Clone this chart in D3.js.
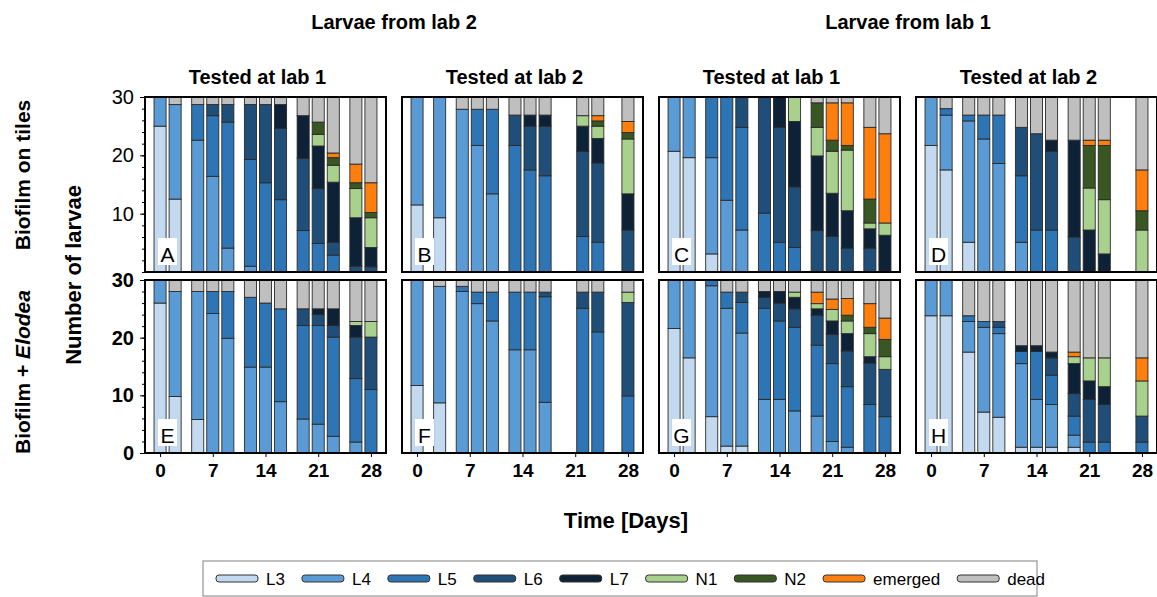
<!DOCTYPE HTML>
<html lang="en">
<head>
<meta charset="utf-8" />
<title>Larval development on biofilm</title>
<script src="https://d3js.org/d3.v7.min.js"></script>
<style>
  body { margin: 0; background: #fff; }
  text { font-family: "Liberation Sans", Arial, sans-serif; fill: #000; }
</style>
</head>
<body>
<div id="chart"></div>
<script>
// stages, bottom to top of each bar
var stages = ["L3", "L4", "L5", "L6", "L7", "N1", "N2", "emerged", "dead"];
var stageColours = ["#c3d9ef", "#5b9bd5", "#2e75b6", "#1f4e79", "#0d2137", "#a9d18e", "#385723", "#ff7f0e", "#bfbfbf"];

var daysAC = [0, 2, 5, 7, 9, 12, 14, 16, 19, 21, 23, 26, 28];
var daysB = [0, 3, 6, 8, 10, 13, 15, 17, 22, 24, 28];
var daysD = [0, 2, 5, 7, 9, 12, 14, 16, 19, 21, 23, 28];
var dayTicks = [0, 7, 14, 21, 28];
var countTicks = [0, 10, 20, 30];
var panelLetters = ["A", "B", "C", "D", "E", "F", "G", "H"];
var groupTitles = ["Larvae from lab 2", "Larvae from lab 1"];
var panelTitles = ["Tested at lab 1", "Tested at lab 2", "Tested at lab 1", "Tested at lab 2"];
var rowTitles = ["Biofilm on tiles", "Biofilm + "];

// number of larvae per stage: L3, L4, L5, L6, L7, N1, N2, emerged, dead
var panelA = [
  [25, 5, 0, 0, 0, 0, 0, 0, 0],
  [12.5, 16.2, 0, 0, 0, 0, 0, 0, 1.3],
  [0, 22.6, 6.1, 0, 0, 0, 0, 0, 1.3],
  [0, 16.4, 10.4, 1.9, 0, 0, 0, 0, 1.3],
  [0, 4.1, 21.6, 3.0, 0, 0, 0, 0, 1.3],
  [0, 1.0, 18.3, 9.4, 0, 0, 0, 0, 1.3],
  [0, 0, 15.3, 13.4, 0, 0, 0, 0, 1.3],
  [0, 0, 12.4, 12.2, 4.1, 0, 0, 0, 1.3],
  [0, 0, 7.1, 12.4, 7.3, 0, 0, 0, 3.2],
  [0, 0, 4.9, 9.4, 7.3, 2.0, 2.1, 0, 4.3],
  [0, 0, 2.9, 2.2, 10.3, 2.9, 1.3, 0.8, 9.6],
  [0, 0, 0, 1.0, 8.3, 5.0, 1.0, 3.2, 11.5],
  [0, 0, 0, 0.9, 3.3, 5.1, 0.9, 5.1, 14.7]
];
var panelB = [
  [11.5, 18.5, 0, 0, 0, 0, 0, 0, 0],
  [9.3, 20.7, 0, 0, 0, 0, 0, 0, 0],
  [0, 27.9, 0, 0, 0, 0, 0, 0, 2.1],
  [0, 21.7, 6.2, 0, 0, 0, 0, 0, 2.1],
  [0, 13.4, 14.5, 0, 0, 0, 0, 0, 2.1],
  [0, 0, 21.7, 5.2, 0, 0, 0, 0, 3.1],
  [0, 0, 17.5, 7.5, 1.9, 0, 0, 0, 3.1],
  [0, 0, 16.5, 8.5, 1.9, 0, 0, 0, 3.1],
  [0, 0, 6.1, 14.6, 4.3, 1.8, 0, 0, 3.2],
  [0, 0, 5.1, 13.6, 4.2, 2.1, 0.9, 0.9, 3.2],
  [0, 0, 0, 7.2, 6.2, 9.4, 1.1, 1.9, 4.2]
];
var panelC = [
  [20.7, 9.3, 0, 0, 0, 0, 0, 0, 0],
  [19.6, 10.4, 0, 0, 0, 0, 0, 0, 0],
  [3.1, 16.5, 10.4, 0, 0, 0, 0, 0, 0],
  [0, 12.3, 17.7, 0, 0, 0, 0, 0, 0],
  [0, 7.2, 17.6, 5.2, 0, 0, 0, 0, 0],
  [0, 0, 10.1, 19.9, 0, 0, 0, 0, 0],
  [0, 0, 5.1, 19.7, 5.2, 0, 0, 0, 0],
  [0, 0, 4.2, 10.4, 11.2, 4.2, 0, 0, 0],
  [0, 0, 0, 7.1, 12.8, 4.9, 4.2, 0, 1.0],
  [0, 0, 0, 6.1, 7.4, 7.2, 1.9, 6.4, 1.0],
  [0, 0, 0, 4.1, 6.4, 10.4, 0.8, 7.3, 1.0],
  [0, 0, 0, 4.1, 3.3, 1.0, 4.1, 12.3, 5.2],
  [0, 0, 0, 0, 6.3, 2.1, 0, 15.3, 6.3]
];
var panelD = [
  [21.7, 8.3, 0, 0, 0, 0, 0, 0, 0],
  [17.5, 9.4, 1.1, 0, 0, 0, 0, 0, 2.0],
  [5.1, 20.8, 1.0, 0, 0, 0, 0, 0, 3.1],
  [0, 22.8, 4.1, 0, 0, 0, 0, 0, 3.1],
  [0, 18.6, 8.3, 0, 0, 0, 0, 0, 3.1],
  [0, 5.1, 11.4, 8.3, 0, 0, 0, 0, 5.2],
  [0, 0, 7.2, 16.5, 0, 0, 0, 0, 6.3],
  [0, 0, 7.2, 13.5, 1.9, 0, 0, 0, 7.4],
  [0, 0, 0, 6.0, 16.6, 0, 0, 0, 7.4],
  [0, 0, 0, 0, 7.2, 7.2, 7.3, 0.9, 7.4],
  [0, 0, 0, 0, 3.1, 9.3, 9.3, 0.9, 7.4],
  [0, 0, 0, 0, 0, 7.2, 3.3, 7.0, 12.5]
];
var panelE = [
  [26, 4, 0, 0, 0, 0, 0, 0, 0],
  [9.8, 18.2, 0, 0, 0, 0, 0, 0, 2],
  [5.8, 22.2, 0, 0, 0, 0, 0, 0, 2],
  [0, 24.2, 3.8, 0, 0, 0, 0, 0, 2],
  [0, 19.9, 8.1, 0, 0, 0, 0, 0, 2],
  [0, 14.9, 12.1, 0, 0, 0, 0, 0, 3],
  [0, 14.9, 11.1, 0, 0, 0, 0, 0, 4],
  [0, 8.9, 16.1, 0, 0, 0, 0, 0, 5],
  [0, 5.9, 16.2, 2.9, 0, 0, 0, 0, 5],
  [0, 5.0, 17.1, 1.9, 1.0, 0, 0, 0, 5],
  [0, 2.9, 17.2, 2.0, 2.9, 0, 0, 0, 5],
  [0, 1.9, 11.0, 7.2, 2.0, 0.7, 0, 0, 7.2],
  [0, 0, 11.0, 9.1, 0, 2.7, 0, 0, 7.2]
];
var panelF = [
  [11.7, 18.3, 0, 0, 0, 0, 0, 0, 0],
  [8.7, 20.2, 0, 0, 0, 0, 0, 0, 1.1],
  [0, 28.0, 0.9, 0, 0, 0, 0, 0, 1.1],
  [0, 25.9, 2.0, 0, 0, 0, 0, 0, 2.1],
  [0, 22.9, 5.0, 0, 0, 0, 0, 0, 2.1],
  [0, 17.9, 10.0, 0, 0, 0, 0, 0, 2.1],
  [0, 17.9, 10.0, 0, 0, 0, 0, 0, 2.1],
  [0, 8.8, 18.3, 0.8, 0, 0, 0, 0, 2.1],
  [0, 0, 25.1, 2.8, 0, 0, 0, 0, 2.1],
  [0, 0, 21.0, 6.9, 0, 0, 0, 0, 2.1],
  [0, 0, 9.9, 16.2, 0, 1.8, 0, 0, 2.1]
];
var panelG = [
  [21.6, 8.4, 0, 0, 0, 0, 0, 0, 0],
  [16.5, 13.5, 0, 0, 0, 0, 0, 0, 0],
  [6.3, 22.7, 1.0, 0, 0, 0, 0, 0, 0],
  [1.2, 23.9, 2.8, 0, 0, 0, 0, 0, 2.1],
  [1.2, 19.6, 5.3, 1.8, 0, 0, 0, 0, 2.1],
  [0, 9.3, 15.8, 1.9, 1.0, 0, 0, 0, 2.0],
  [0, 9.3, 13.6, 3.1, 2.0, 0, 0, 0, 2.0],
  [0, 7.3, 14.5, 3.2, 2.0, 0.9, 0, 0, 2.1],
  [0, 6.4, 12.3, 5.2, 1.1, 0.9, 0, 2.0, 2.1],
  [0, 2.0, 13.5, 5.1, 2.3, 2.0, 0, 1.8, 3.3],
  [0, 1.0, 10.5, 6.2, 3.0, 2.2, 1.0, 2.9, 3.2],
  [0, 0, 8.4, 7.2, 1.1, 4.0, 1.1, 4.1, 4.1],
  [0, 0, 6.3, 8.2, 0, 2.2, 3.0, 3.7, 6.6]
];
var panelH = [
  [23.8, 6.2, 0, 0, 0, 0, 0, 0, 0],
  [23.8, 6.2, 0, 0, 0, 0, 0, 0, 0],
  [17.5, 5.3, 1.0, 0, 0, 0, 0, 0, 6.2],
  [7.1, 14.7, 1.0, 0, 0, 0, 0, 0, 7.2],
  [6.2, 14.5, 1.1, 1.0, 0, 0, 0, 0, 7.2],
  [1.0, 14.5, 2.1, 0, 1.0, 0, 0, 0, 11.4],
  [1.0, 8.3, 8.3, 0, 1.0, 0, 0, 0, 11.4],
  [1.0, 7.4, 5.1, 3.0, 1.0, 0, 0, 0, 12.5],
  [1.0, 2.1, 3.3, 3.9, 5.2, 1.2, 0, 0.8, 12.5],
  [0, 0, 1.9, 7.4, 3.2, 4.0, 0, 0, 13.5],
  [0, 0, 1.9, 6.5, 3.1, 5.0, 0, 0, 13.5],
  [0, 0, 1.9, 4.5, 0, 6.1, 0, 4.0, 13.5]
];

var width = 1157;
var height = 597;
var panelLefts = [145, 402, 659, 916];
var panelW = 241;
var rowTops = [97, 280];
var rowBottoms = [272, 453];

var svg = d3.select("#chart")
  .append("svg")
  .attr("width", width)
  .attr("height", height);

var panels = [
  { rows: panelA, days: daysAC, col: 0, row: 0 },
  { rows: panelB, days: daysB, col: 1, row: 0 },
  { rows: panelC, days: daysAC, col: 2, row: 0 },
  { rows: panelD, days: daysD, col: 3, row: 0 },
  { rows: panelE, days: daysAC, col: 0, row: 1 },
  { rows: panelF, days: daysB, col: 1, row: 1 },
  { rows: panelG, days: daysAC, col: 2, row: 1 },
  { rows: panelH, days: daysD, col: 3, row: 1 }
];

panels.forEach(function(p, i) {
  drawPanel(p, panelLetters[i]);
});

function drawPanel(p, letter) {
  var left = panelLefts[p.col];
  var xScale = d3.scaleLinear()
    .domain([-2, 30])
    .range([left, left + panelW]);
  var yScale = d3.scaleLinear()
    .domain([0, 30])
    .range([rowBottoms[p.row], rowTops[p.row]]);

  // one record per bar, keyed by stage, for d3.stack
  var table = p.rows.map(function(r, i) {
    var o = { day: p.days[i] };
    stages.forEach(function(s, j) { o[s] = r[j]; });
    return o;
  });
  var series = d3.stack().keys(stages)(table);

  var g = svg.append("g");
  var barW = xScale(0.8) - xScale(-0.8);

  series.forEach(function(s, j) {
    g.selectAll(null)
      .data(s.filter(function(d) { return d[1] - d[0] > 0; }))
      .enter()
      .append("rect")
      .attr("x", function(d) { return xScale(d.data.day) - barW / 2; })
      .attr("width", barW)
      .attr("y", function(d) { return yScale(d[1]); })
      .attr("height", function(d) { return yScale(d[0]) - yScale(d[1]); })
      .attr("fill", stageColours[j])
      .attr("stroke", "#2a2a2a")
      .attr("stroke-width", 0.9);
  });

  // panel letter on white box
  g.append("rect")
    .attr("x", left + 13)
    .attr("y", rowBottoms[p.row] - 34)
    .attr("width", 19)
    .attr("height", 27)
    .attr("fill", "#fff");
  g.append("text")
    .attr("x", left + 22.5)
    .attr("y", rowBottoms[p.row] - 10)
    .attr("text-anchor", "middle")
    .style("font-size", "21px")
    .text(letter);

  // frame
  g.append("rect")
    .attr("x", left)
    .attr("y", rowTops[p.row])
    .attr("width", panelW)
    .attr("height", rowBottoms[p.row] - rowTops[p.row])
    .attr("fill", "none")
    .attr("stroke", "#000")
    .attr("stroke-width", 2);

  if (p.row == 1) {
    var xAxis = d3.axisBottom(xScale)
      .tickValues(dayTicks)
      .tickSize(4)
      .tickSizeOuter(0)
      .tickPadding(7);
    var ax = g.append("g")
      .attr("transform", "translate(0," + rowBottoms[p.row] + ")")
      .call(xAxis);
    ax.select(".domain").remove();
    ax.selectAll("text")
      .style("font-size", "19px")
      .style("font-weight", "bold");
  }

  if (p.col == 0) {
    var minor = d3.axisLeft(yScale)
      .tickValues(d3.range(0, 31, 2))
      .tickSize(3)
      .tickFormat("");
    var mg = g.append("g")
      .attr("transform", "translate(" + left + ",0)")
      .call(minor);
    mg.select(".domain").remove();

    var yAxis = d3.axisLeft(yScale)
      .tickValues(p.row == 0 ? countTicks.slice(1) : countTicks)
      .tickSize(5)
      .tickPadding(6);
    var yg = g.append("g")
      .attr("transform", "translate(" + left + ",0)")
      .call(yAxis);
    yg.select(".domain").remove();
    yg.selectAll("text")
      .style("font-size", "20px")
      .style("font-weight", p.row == 1 ? "bold" : "normal");
  }
}

// column titles
var pairCentres = [(panelLefts[0] + panelLefts[1] + panelW) / 2, (panelLefts[2] + panelLefts[3] + panelW) / 2];
groupTitles.forEach(function(t, i) {
  svg.append("text")
    .attr("x", pairCentres[i])
    .attr("y", 29)
    .attr("text-anchor", "middle")
    .style("font-size", "20px")
    .style("font-weight", "bold")
    .text(t);
});
panelTitles.forEach(function(t, i) {
  svg.append("text")
    .attr("x", panelLefts[i] + panelW / 2 - 8)
    .attr("y", 84)
    .attr("text-anchor", "middle")
    .style("font-size", "20px")
    .style("font-weight", "bold")
    .text(t);
});

// row titles
svg.append("text")
  .attr("transform", "translate(23,175) rotate(-90)")
  .attr("dy", "0.35em")
  .attr("text-anchor", "middle")
  .style("font-size", "21px")
  .style("font-weight", "bold")
  .text(rowTitles[0]);
var rt = svg.append("text")
  .attr("transform", "translate(23,372) rotate(-90)")
  .attr("dy", "0.35em")
  .attr("text-anchor", "middle")
  .style("font-size", "21px")
  .style("font-weight", "bold");
rt.append("tspan").text(rowTitles[1]);
rt.append("tspan").style("font-style", "italic").text("Elodea");

svg.append("text")
  .attr("transform", "translate(73," + (rowTops[0] + rowBottoms[1]) / 2 + ") rotate(-90)")
  .attr("dy", "0.35em")
  .attr("text-anchor", "middle")
  .style("font-size", "22px")
  .style("font-weight", "bold")
  .text("Number of larvae");

svg.append("text")
  .attr("x", 626)
  .attr("y", 528)
  .attr("text-anchor", "middle")
  .style("font-size", "22px")
  .style("font-weight", "bold")
  .text("Time [Days]");

// legend
var legend = svg.append("g");
legend.append("rect")
  .attr("x", 203)
  .attr("y", 561)
  .attr("width", 834)
  .attr("height", 35)
  .attr("fill", "#fff")
  .attr("stroke", "#808080")
  .attr("stroke-width", 1);

var lx = 216;
stages.forEach(function(s, j) {
  legend.append("rect")
    .attr("x", lx)
    .attr("y", 575)
    .attr("width", 42)
    .attr("height", 7)
    .attr("rx", 3)
    .attr("fill", stageColours[j])
    .attr("stroke", "#333")
    .attr("stroke-width", 1);
  var t = legend.append("text")
    .attr("x", lx + 50)
    .attr("y", 585)
    .style("font-size", "17px")
    .text(s);
  lx += 50 + t.node().getComputedTextLength() + 17;
});
</script>
</body>
</html>
